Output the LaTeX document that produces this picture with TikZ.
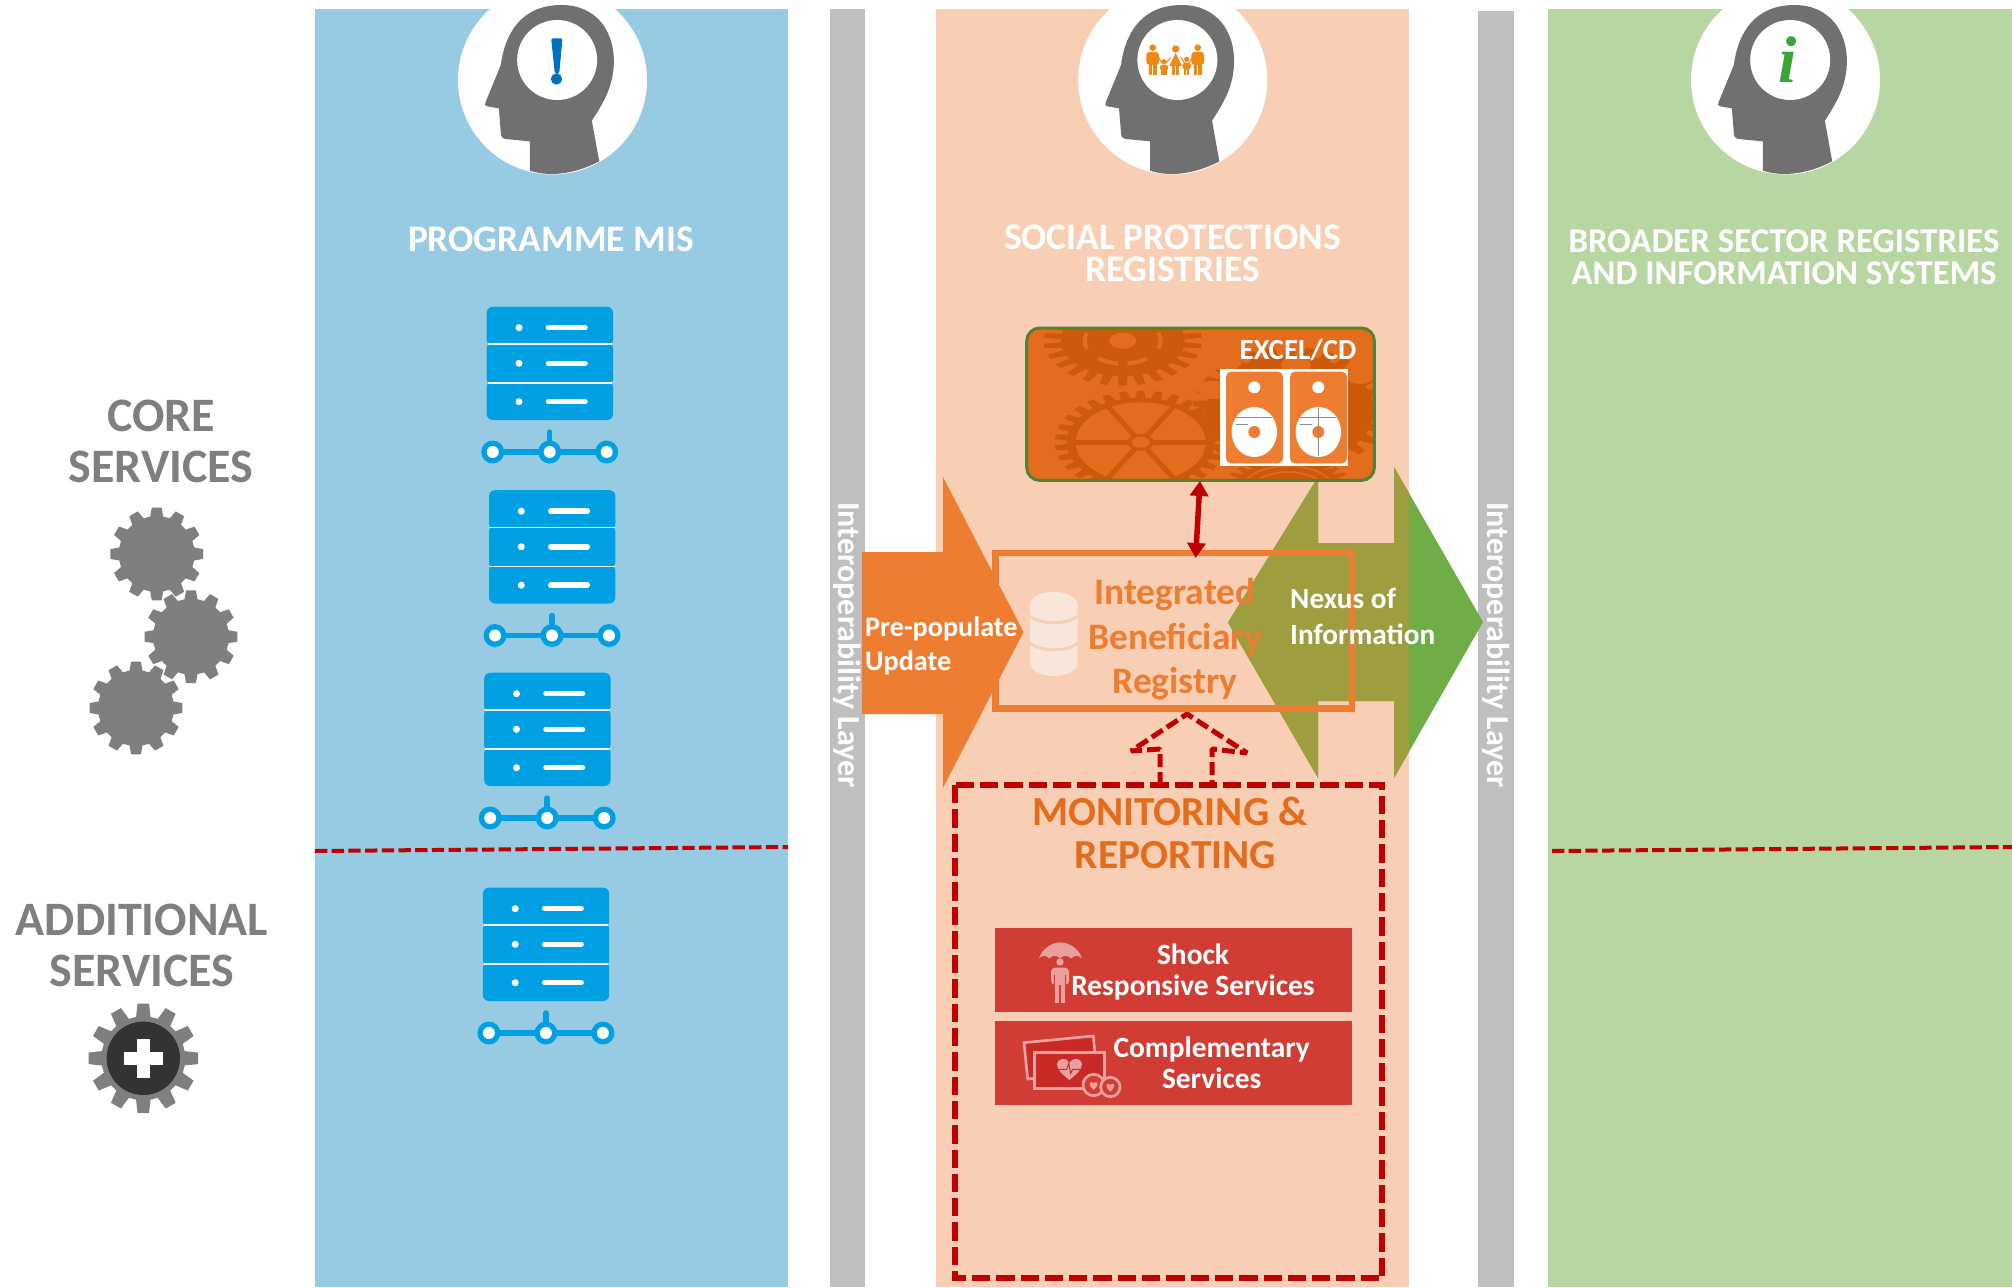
\documentclass[tikz,border=0pt]{standalone}
\usepackage{fontspec}
\setmainfont{Carlito}
\newfontfamily\serifi{Liberation Serif}
\usetikzlibrary{arrows.meta,shapes.geometric}
\definecolor{cblue}{HTML}{97CAE3}
\definecolor{cpeach}{HTML}{F8CFB4}
\definecolor{cgreen}{HTML}{B8D6A2}
\definecolor{cbar}{HTML}{BFBFBF}
\definecolor{chead}{HTML}{707070}
\definecolor{cgear}{HTML}{7F7F7F}
\definecolor{cserver}{HTML}{00A0E3}
\definecolor{cred}{HTML}{C00000}
\definecolor{corange}{HTML}{ED7D31}
\definecolor{cdeep}{HTML}{E46C1D}
\definecolor{cdark}{HTML}{CC5A0A}
\definecolor{colive}{HTML}{9E9D3F}
\definecolor{cgrn}{HTML}{70AD47}
\definecolor{cbox}{HTML}{D13D35}
\definecolor{cicon}{HTML}{E8A09C}
\definecolor{cfam}{HTML}{EE8A14}
\definecolor{cborder}{HTML}{548235}
\definecolor{cexcl}{HTML}{0070C0}
\definecolor{cigreen}{HTML}{3BA535}
\definecolor{cinner}{HTML}{C82A26}
\definecolor{cdb}{HTML}{F9E6DA}
\tikzset{
  panel/.style={draw=none,rectangle,inner sep=0pt,minimum width=0pt},
  title/.style={text=white,font=\fontsize{37.4}{32.5}\selectfont\bfseries,align=center,inner sep=0pt},
  titlesmall/.style={text=white,font=\fontsize{34.8}{32.5}\selectfont\bfseries,align=center,inner sep=0pt},
  side/.style={text=cgear,font=\fontsize{48}{51}\selectfont\bfseries,align=center,inner sep=0pt},
  layertxt/.style={text=white,font=\fontsize{32}{34}\selectfont\bfseries,rotate=-90,inner sep=0pt},
  arrowtxt/.style={text=white,font=\fontsize{28.2}{34}\selectfont\bfseries,align=left,inner sep=0pt,anchor=west},
  nexustxt/.style={text=white,font=\fontsize{29.3}{36}\selectfont\bfseries,align=left,inner sep=0pt,anchor=west},
  boxtxt/.style={text=white,font=\fontsize{29.4}{31.5}\selectfont\bfseries,align=center,inner sep=0pt},
  regtxt/.style={text=corange,font=\fontsize{37.4}{44.5}\selectfont\bfseries,align=center,inner sep=0pt},
  montxt/.style={text=cdeep,font=\fontsize{41.3}{44.5}\selectfont\bfseries,align=center,inner sep=0pt},
  redbox/.style={fill=cbox,rectangle,inner sep=0pt,anchor=north west,minimum width=356.7pt,minimum height=84pt},
  redline/.style={cred,line width=4pt,dash pattern=on 12.3pt off 4.4pt},
  dashline/.style={cred,line width=6pt,dash pattern=on 18.3pt off 6pt},
  dashhead/.style={cred,line width=5pt,dash pattern=on 13pt off 5pt,line join=miter,miter limit=1}
}
\newcommand\gearat[7][]{%
  \pgfmathsetmacro\gstep{360/#6}%
  \pgfmathsetmacro\gouter{\gstep*0.2}%
  \pgfmathsetmacro\ginner{\gstep*0.33}%
  \fill[#7,shift={(#2,#3)},#1] (90-\ginner:#5)
    \foreach \ga in {1,...,#6}{
      -- ({90+(\ga-1)*\gstep-\gouter}:#4)
      -- ({90+(\ga-1)*\gstep+\gouter}:#4)
      -- ({90+(\ga-1)*\gstep+\ginner}:#5)
      -- ({90+\ga*\gstep-\ginner}:#5)
    } -- cycle;%
}
\newcommand\headicon[3]{%
  \begin{scope}[shift={(#1,#2)},x=.33333pt,y=-.33333pt,shift={(-338,-240)}]
    \fill[white] (338,240) circle[radius=283.5];
    \fill[chead] (270,512) -- (270,424) -- (197,417) .. controls (187,415) and (184,410) .. (183,400)
      -- (177,325) -- (142,319) .. controls (135,318) and (134,313) .. (137,307)
      -- (183,195) .. controls (195,100) and (245,15) .. (365,15)
      .. controls (470,15) and (525,95) .. (522,190)
      .. controls (520,260) and (490,310) .. (456,362)
      -- (478,484) .. controls (420,515) and (340,535) .. (270,512) -- cycle;
    \fill[white] (352,180) circle[radius=120];
    #3
  \end{scope}%
}
\newcommand\personfig[6]{%
  \fill[cfam] (#1,#2) circle[radius=#3];
  \fill[cfam,rounded corners=3pt] ({#1-#4},#5) rectangle ({#1+#4},{#5+(#6-#5)*0.55});
  \fill[cfam] ({#1-#4*0.62},{#5+(#6-#5)*0.4}) rectangle ({#1-#4*0.08},#6);
  \fill[cfam] ({#1+#4*0.08},{#5+(#6-#5)*0.4}) rectangle ({#1+#4*0.62},#6);
}
\newcommand\serverstack[2]{%
  \begin{scope}[shift={(#1,#2)}]
    \fill[cserver,rounded corners=6pt] (486.7,306.7) rectangle (613,346);
    \fill[cserver,rounded corners=6pt] (486.7,342) rectangle (613,385);
    \fill[cserver,rounded corners=6pt] (486.7,381) rectangle (613,420);
    \draw[white,line width=1.3pt] (487.5,344) -- (612.2,344);
    \draw[white,line width=1.3pt] (487.5,383) -- (612.2,383);
    \foreach \yy in {327.7,363.3,401.7}{
      \fill[white] (519,\yy) circle[radius=3.5];
      \draw[white,line width=5.5pt,line cap=round] (548.5,\yy) -- (585,\yy);
    }
    \draw[cserver,line width=5.5pt,line cap=round] (549.7,432) -- (549.7,452);
    \draw[cserver,line width=5.5pt] (492.7,452) -- (606.7,452);
    \foreach \xx in {492.7,549.7,606.7}{
      \fill[cserver] (\xx,452) circle[radius=11.5];
      \fill[white] (\xx,452) circle[radius=6];
    }
  \end{scope}%
}
\begin{document}
\begin{tikzpicture}[x=1pt,y=-1pt]
\useasboundingbox (0,0) rectangle (2012,1287);
\clip (0,0) rectangle (2012,1287);
\fill[white] (0,0) rectangle (2012,1287);
% panels
\node[panel,fill=cblue,anchor=north west,minimum width=473pt,minimum height=1278pt] (pblue) at (315,9) {};
\node[panel,fill=cbar,anchor=north west,minimum width=35.5pt,minimum height=1278pt] (bar1) at (829.5,9) {};
\node[panel,fill=cpeach,anchor=north west,minimum width=473pt,minimum height=1278pt] (ppeach) at (936,9) {};
\node[panel,fill=cbar,anchor=north west,minimum width=36pt,minimum height=1276pt] (bar2) at (1478,11) {};
\node[panel,fill=cgreen,anchor=north west,minimum width=465pt,minimum height=1278pt] (pgreen) at (1547.5,9) {};
% layer text
\node[layertxt] (lay1) at (847.5,645) {Interoperability Layer};
\node[layertxt] (lay2) at (1496.5,645) {Interoperability Layer};
% heads
\headicon{552.5}{80}{
  \fill[cexcl,rounded corners=2pt] (334,115) -- (368,115) -- (358,222) -- (345,222) -- cycle;
  \fill[cexcl] (350,237) circle[radius=17];
}
\headicon{1172.7}{80}{
  \begin{scope}[shift={(-390,0)}]
    \personfig{668}{143}{10}{19}{156}{226}
    \personfig{702}{185}{8}{13}{194}{226}
    \personfig{770}{178}{8}{13}{188}{226}
    \personfig{803}{143}{10}{19}{156}{226}
    \fill[cfam] (737,147) circle[radius=11];
    \fill[cfam] (737,159) -- (756,198) -- (718,198) -- cycle;
    \fill[cfam] (727,195) rectangle (735,226);
    \fill[cfam] (739,195) rectangle (747,226);
    \draw[cfam,line width=1pt] (685,172) -- (697,190);
    \draw[cfam,line width=1pt] (708,190) -- (722,172);
    \draw[cfam,line width=1pt] (752,172) -- (764,190);
    \draw[cfam,line width=1pt] (776,190) -- (787,172);
  \end{scope}
}
\headicon{1785.5}{80}{
  \node[text=cigreen,font=\serifi\fontsize{66}{66}\selectfont\bfseries\itshape,inner sep=0pt] (gi) at (345,178) {i};
}
% titles
\node[title] (t1) at (551,239.5) {PROGRAMME MIS};
\node[title] (t2) at (1172.5,253.5) {SOCIAL PROTECTIONS\\REGISTRIES};
\node[titlesmall] (t3) at (1784,257) {BROADER SECTOR REGISTRIES\\AND INFORMATION SYSTEMS};
% side labels
\node[side] (core) at (161,441.5) {CORE\\SERVICES};
\node[side] (add) at (142,945.5) {ADDITIONAL\\SERVICES};
% gears
\gearat{156.7}{554}{46.7}{38}{12}{cgear}
\gearat{191}{636.7}{46.7}{38}{12}{cgear}
\gearat{136}{708}{46.7}{38}{12}{cgear}
\gearat{143.3}{1058.3}{55}{42}{12}{cgear}
\fill[black!80] (143.3,1058.3) circle[radius=36.7];
\fill[white] (136.8,1038.8) rectangle (149.8,1077.8);
\fill[white] (123.8,1051.8) rectangle (162.8,1064.8);
% servers
\serverstack{0}{0}
\serverstack{2.3}{183.5}
\serverstack{-2.5}{366}
\serverstack{-3.8}{581}
% dividing lines
\coordinate (divA) at (315,851);
\coordinate (divB) at (788,847);
\coordinate (divC) at (1552,851);
\coordinate (divD) at (2012,847);
\draw[redline] (divA) -- (divB);
\draw[redline] (divC) -- (divD);
% orange arrow
\fill[corange] (862,552) -- (943,552) -- (943,477) -- (1023.5,632) -- (943,788) -- (943,714) -- (862,714) -- cycle;
% green arrow
\path[fill=cgrn] (1228,622.5) -- (1318,477) -- (1318,543) -- (1394,543) -- (1394,467) -- (1483,622) -- (1394,778) -- (1394,701) -- (1318,701) -- (1318,778) -- cycle;
\begin{scope}
  \clip (936,0) rectangle (1409,1287);
  \path[fill=colive] (1228,622.5) -- (1318,477) -- (1318,543) -- (1394,543) -- (1394,467) -- (1483,622) -- (1394,778) -- (1394,701) -- (1318,701) -- (1318,778) -- cycle;
\end{scope}
% excel box
\node[rectangle,rounded corners=13pt,draw=none,fill=cdeep,anchor=north west,minimum width=347.3pt,minimum height=152pt,inner sep=0pt] (excel) at (1026.7,328) {};
\begin{scope}
  \clip[rounded corners=13pt] (1026.7,328) rectangle (1374,480);
  % right gear, behind the sleeves
  \gearat[yscale=.65]{1290}{410}{97}{84}{30}{cdark}
  \foreach \hx/\hy in {1226.7/361.7,1213/390,1296/365,1360/375}{
    \fill[cdeep] (\hx,\hy) ellipse[x radius=15,y radius=9];
  }
  % top gear
  \gearat[yscale=.57]{1122.7}{340.7}{79}{62}{26}{cdark}
  \fill[cdeep] (1122.7,340.7) ellipse[x radius=13.5,y radius=8];
  \draw[cdeep,line width=4pt] (1122.7,340.7) ++(160:38 and 23) arc[start angle=160,end angle=200,x radius=38,y radius=23];
  \draw[cdeep,line width=4pt] (1122.7,340.7) ++(-20:38 and 23) arc[start angle=-20,end angle=20,x radius=38,y radius=23];
  \draw[cdeep,line width=4pt] (1122.7,340.7) ++(50:38 and 23) arc[start angle=50,end angle=83,x radius=38,y radius=23];
  \draw[cdeep,line width=4pt] (1122.7,340.7) ++(97:38 and 23) arc[start angle=97,end angle=130,x radius=38,y radius=23];
  % bottom gear
  \gearat[yscale=.6]{1140.7}{442.3}{86}{74}{30}{cdark}
  \fill[cdeep] (1140.7,442.3) ellipse[x radius=65,y radius=40];
  \begin{scope}[shift={(1140.7,442.3)},yscale=.63]
    \foreach \a in {0,60,...,300}{\draw[cdark,line width=5pt] (0,0) -- (\a:68);}
  \end{scope}
  \fill[cdark] (1140.7,442.3) ellipse[x radius=13,y radius=8.5];
  \fill[cdeep] (1140.7,442.3) ellipse[x radius=9,y radius=5.5];
  % rings at the lower right
  \gearat[yscale=.5]{1288}{490}{66}{56}{30}{cdark}
  \draw[cdeep,line width=1.5pt] (1288,490) ellipse[x radius=46,y radius=24];
  \draw[cdeep,line width=1.5pt] (1288,490) ellipse[x radius=36,y radius=18];
\end{scope}
\draw[draw=cborder,line width=3pt,rounded corners=13pt] (excel.north west) rectangle (excel.south east);
\node[text=white,font=\fontsize{29}{29}\selectfont\bfseries,inner sep=0pt] (exceltxt) at (1298,350) {EXCEL/CD};
% CD sleeves
\node[rectangle,fill=white,anchor=north west,inner sep=0pt,minimum width=128pt,minimum height=97pt] (cdsheet) at (1220,369) {};
\foreach \cdx in {1226,1290}{
  \fill[corange,rounded corners=5pt] (\cdx,371.7) rectangle ++(57,91.6);
  \fill[white] (\cdx+28.3,387.3) circle[radius=6];
  \fill[white] (\cdx+28.3,432) ellipse[x radius=22.7,y radius=25];
  \fill[corange] (\cdx+28.3,432) circle[radius=6];
  \draw[black!45,line width=.5pt] (\cdx+10,417) -- (\cdx+46,417);
  \draw[black!45,line width=.5pt] (\cdx+10,424) -- (\cdx+22,424);
}
\draw[black!45,line width=.5pt] (1318.3,408) -- (1318.3,456);
% registry box
\node[rectangle,draw=corange,line width=6.5pt,anchor=north west,minimum width=356.7pt,minimum height=155.5pt,inner sep=0pt] (registry) at (992,549.5) {};
\node[regtxt] (regname) at (1175,639.5) {Integrated\\Beneficiary\\Registry};
% arrow labels
\node[arrowtxt] (prepop) at (865,646) {Pre-populate\\Update};
\node[nexustxt] (nexus) at (1290,616) {Nexus of\\Information};
% database icon
\fill[cdb] (1030,605) arc[start angle=180,end angle=360,x radius=23.8,y radius=13]
  -- (1077.6,663) arc[start angle=0,end angle=180,x radius=23.8,y radius=13] -- cycle;
\fill[cdb] (1053.8,605) ellipse[x radius=23.8,y radius=13];
\draw[cpeach,line width=3pt] (1030,616) .. controls (1040,625) and (1068,625) .. (1077.6,616);
\draw[cpeach,line width=3pt] (1030,643) .. controls (1040,652) and (1068,652) .. (1077.6,643);
% double arrow
\coordinate (dblTop) at (1200,481);
\coordinate (dblBot) at (1195.6,558);
\draw[cred,line width=5.5pt,{Triangle[length=15pt,width=18pt]}-{Triangle[length=15pt,width=18pt]}] (dblTop) -- (dblBot);
% monitoring
\node[rectangle,anchor=north west,inner sep=0pt,minimum width=427pt,minimum height=493pt] (monitor) at (955,785) {};
\draw[dashline] (monitor.north west) rectangle (monitor.south east);
\node[montxt] (montitleA) at (1170,811) {MONITORING \&};
\node[montxt] (montitleB) at (1175.5,855) {REPORTING};
% dashed block arrow
\draw[dashhead] (1160,785) -- (1160,749) -- (1131,751) -- (1187,714) -- (1247,753) -- (1212,749) -- (1212,785);
% red boxes
\node[redbox] (shock) at (995,928) {};
\node[redbox] (compl) at (995,1021) {};
\node[boxtxt] (shocktxt) at (1193,972) {Shock\\Responsive Services};
\node[boxtxt] (compltxt) at (1211.7,1063) {Complementary\\Services};
% umbrella icon
\begin{scope}[shift={(950,900)},x=.33333pt,y=-.33333pt]
  \fill[cicon] (267,175) .. controls (275,150) and (300,128) .. (331,127) .. controls (362,128) and (388,150) .. (396,175)
    .. controls (385,165) and (375,165) .. (363,175) .. controls (352,165) and (340,165) .. (331,175)
    .. controls (320,165) and (308,165) .. (298,175) .. controls (288,165) and (278,165) .. (267,175) -- cycle;
  \fill[cicon] (330,186) circle[radius=11];
  \fill[cicon,rounded corners=4pt] (303,203) rectangle (357,255);
  \fill[cicon] (316,230) rectangle (328,310);
  \fill[cicon] (332,230) rectangle (344,310);
  \draw[cbox,line width=.8pt] (314,225) -- (314,255);
  \draw[cbox,line width=.8pt] (346,225) -- (346,255);
\end{scope}
% money icon
\begin{scope}[shift={(950,900)},x=.33333pt,y=-.33333pt]
  \draw[cicon,line width=2.7pt,fill=cinner] (222,428) -- (430,408) -- (440,515) -- (233,537) -- cycle;
  \draw[cicon,line width=2.7pt,fill=cinner] (254,458) rectangle (463,565);
  \fill[cicon] (358,540) .. controls (340,525) and (320,510) .. (321,492) .. controls (322,475) and (350,470) .. (358,488)
    .. controls (366,470) and (396,475) .. (396,492) .. controls (396,510) and (376,525) .. (358,540) -- cycle;
  \draw[cinner,line width=1pt] (321,508) -- (350,508) -- (356,490) -- (362,520) -- (368,508) -- (396,508);
  \draw[cicon,line width=2.7pt,fill=cbox] (431,555) circle[radius=32];
  \draw[cicon,line width=2.7pt,fill=cbox] (481,561) circle[radius=29];
  \fill[cicon] (431,570) .. controls (420,560) and (416,552) .. (422,547) .. controls (426,545) and (430,547) .. (431,551)
    .. controls (432,547) and (436,545) .. (440,547) .. controls (446,552) and (442,560) .. (431,570) -- cycle;
  \fill[cicon] (481,575) .. controls (470,565) and (466,557) .. (472,552) .. controls (476,550) and (480,552) .. (481,556)
    .. controls (482,552) and (486,550) .. (490,552) .. controls (496,557) and (492,565) .. (481,575) -- cycle;
\end{scope}
\end{tikzpicture}
\end{document}
